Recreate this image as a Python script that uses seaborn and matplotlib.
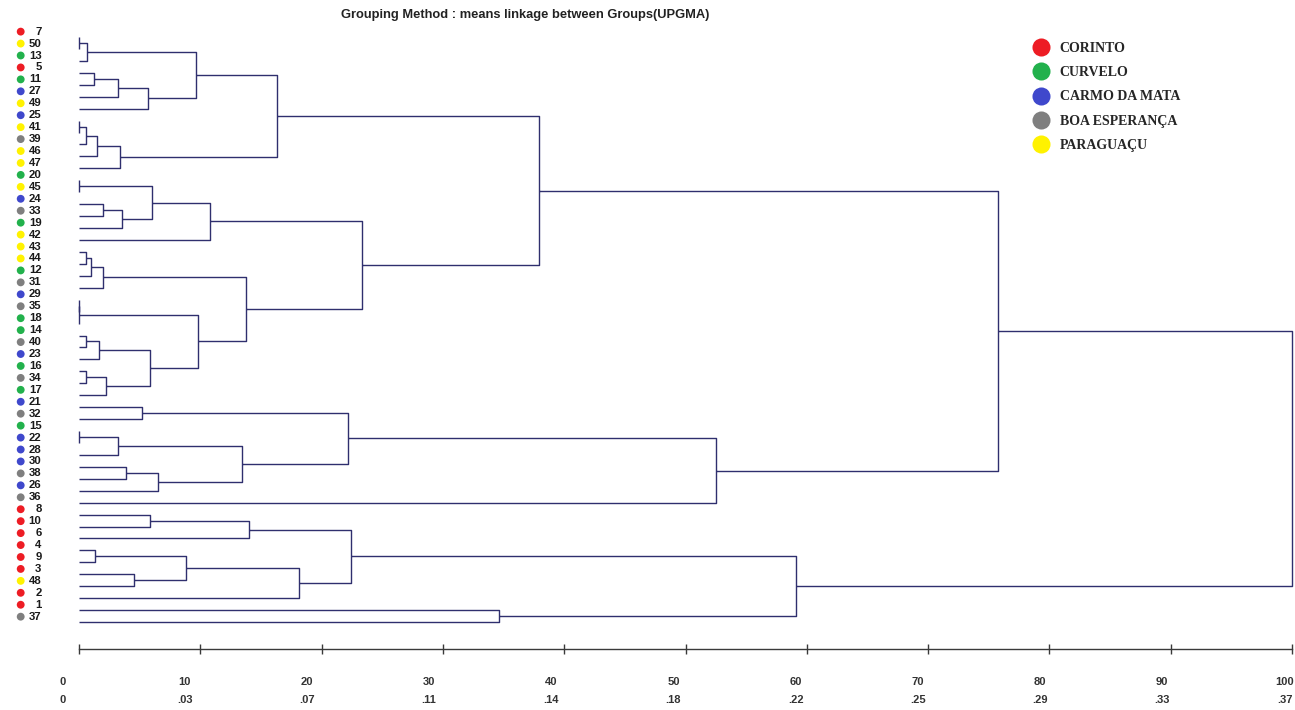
import numpy as np
import pandas as pd
import matplotlib
matplotlib.use("Agg")
import matplotlib.pyplot as plt
from matplotlib.lines import Line2D
from matplotlib.font_manager import FontProperties
from matplotlib.transforms import offset_copy
import seaborn as sns

# ---------------------------------------------------------------------------
# UPGMA merge table. Positive ints are sample numbers, negative ints refer to
# an earlier merge (-1 = first row). Heights are rescaled distances (0-100).
# ---------------------------------------------------------------------------
merge_left = [7, -1, 5, -3, -4, -2, 25, -7, -8, -9, -6, 20, 24, -13, -12, -15,
              43, -17, -18, 29, -20, 14, -22, 16, -24, -23, -21, -19, -16, -11,
              21, 15, -32, 30, -34, -33, -31, -37, -30, 8, -40, 4, 3, -42, -44,
              -41, 1, -46, -39]
merge_right = [50, 13, 11, 27, 49, -5, 41, 39, 46, 47, -10, 45, 33, 19, -14, 42,
               44, 12, 31, 35, 18, 40, 23, 34, 17, -25, -26, -27, -28, -29,
               32, 22, 28, 38, 26, -35, -36, 36, -38, 10, 6, 9, 48, -43, 2,
               -45, 37, -47, -48]
merge_height = [0.0, 0.65, 1.26, 3.24, 5.72, 9.65, 0.0, 0.6, 1.46, 3.38, 16.3,
                0.0, 1.95, 3.58, 6.0, 10.8, 0.6, 0.96, 1.95, 0.0, 0.0, 0.6,
                1.62, 0.6, 2.23, 5.86, 9.85, 13.8, 23.35, 37.9, 5.17, 0.0,
                3.24, 3.88, 6.55, 13.4, 22.15, 52.5, 75.8, 5.86, 14.0, 1.32,
                4.54, 8.8, 18.1, 22.45, 34.6, 59.1, 100.0]

# Sampling sites and their samples
group_names = ["CORINTO", "CURVELO", "CARMO DA MATA", "BOA ESPERANÇA", "PARAGUAÇU"]
group_colors = ["#ED1C24", "#22B14C", "#3F48CC", "#7F7F7F", "#FFF200"]
corinto = [7, 5, 8, 10, 6, 4, 9, 3, 2, 1]
curvelo = [13, 11, 20, 19, 12, 18, 14, 16, 17, 15]
carmo_da_mata = [27, 25, 24, 29, 23, 21, 22, 28, 30, 26]
boa_esperanca = [39, 33, 31, 35, 40, 34, 32, 38, 36, 37]
paraguacu = [50, 49, 41, 46, 47, 45, 42, 43, 44, 48]

# Distance scale
axis_ticks = [0, 10, 20, 30, 40, 50, 60, 70, 80, 90, 100]
axis_raw_labels = ["0", ".03", ".07", ".11", ".14", ".18", ".22", ".25", ".29", ".33", ".37"]

title = "Grouping Method : means linkage between Groups(UPGMA)"

# ---------------------------------------------------------------------------
members = [corinto, curvelo, carmo_da_mata, boa_esperanca, paraguacu]
sample_group = {s: g for g, lst in zip(group_names, members) for s in lst}
palette = dict(zip(group_names, group_colors))

# Walk the tree (left branch first) to get leaf order and segment coordinates
leaf_order = []
seg_x, seg_y = [], []


def place(node):
    if node > 0:
        leaf_order.append(node)
        return float(len(leaf_order) - 1), 0.0
    k = -node - 1
    yl, hl = place(merge_left[k])
    yr, hr = place(merge_right[k])
    h = merge_height[k]
    seg_x.extend([hl, h, h, hr, np.nan])
    seg_y.extend([yl, yl, yr, yr, np.nan])
    return (yl + yr) / 2.0, h


place(-len(merge_height))

W, H = 1295, 710
PX_X0, PX_PER_UNIT = 79.0, 12.13      # horizontal pixel layout
PX_Y0, PX_PER_ROW = 37.0, 11.94       # vertical pixel layout

sns.set_theme(style="white")
plt.rcParams["font.family"] = ["Liberation Sans", "DejaVu Sans"]

fig = plt.figure(figsize=(W / 100, H / 100), dpi=100)
fig.patch.set_facecolor("white")
ax = fig.add_axes([0, 0, 1, 1])
ax.set_facecolor("white")
ax.set_xlim(-PX_X0 / PX_PER_UNIT, (W - PX_X0) / PX_PER_UNIT)
ax.set_ylim((H - PX_Y0) / PX_PER_ROW, -PX_Y0 / PX_PER_ROW)

# Dendrogram branches
ax.plot(seg_x, seg_y, color="#2F2F6E", lw=1.0, solid_capstyle="butt",
        clip_on=False)

# Leaf markers and sample numbers
leaves = pd.DataFrame({
    "sample": leaf_order,
    "group": [sample_group[s] for s in leaf_order],
    "row": np.arange(len(leaf_order)) - 0.45,
})
leaves["mx"] = (20.7 - PX_X0) / PX_PER_UNIT
sns.scatterplot(data=leaves, x="mx", y="row", hue="group", hue_order=group_names,
                palette=palette, s=32, linewidth=0, legend=False, ax=ax,
                clip_on=False)
num_x = (41.5 - PX_X0) / PX_PER_UNIT
for _, r in leaves.iterrows():
    ax.text(num_x, r["row"], str(r["sample"]), ha="right", va="center",
            fontsize=8.2, fontweight="bold", color="#1a1a1a")

# Distance axis
axis_y = (649 - PX_Y0) / PX_PER_ROW
for side in ["left", "right", "top"]:
    ax.spines[side].set_visible(False)
ax.spines["bottom"].set_position(("data", axis_y))
ax.spines["bottom"].set_bounds(0, 100)
ax.spines["bottom"].set_color("#3a3a3a")
ax.spines["bottom"].set_linewidth(1.0)
ax.set_xticks(axis_ticks)
ax.set_yticks([])
ax.tick_params(axis="x", bottom=True, direction="inout", length=7, width=1.0,
               color="#3a3a3a", labelbottom=False)
ax.set_xlabel("")
ax.set_ylabel("")

row1_y = (682 - PX_Y0) / PX_PER_ROW
row2_y = (700 - PX_Y0) / PX_PER_ROW
for v, raw in zip(axis_ticks, axis_raw_labels):
    tr = offset_copy(ax.transData, fig=fig, x=-16.5 + 0.09 * v, y=0, units="dots")
    ax.text(v, row1_y, str(v), transform=tr, ha="center", va="center",
            fontsize=8, fontweight="bold", color="#333333")
    ax.text(v, row2_y, raw, transform=tr, ha="center", va="center",
            fontsize=8, fontweight="bold", color="#333333")

# Site legend
handles = [Line2D([], [], marker="o", ls="", color=palette[g], markersize=13,
                  markeredgewidth=0) for g in group_names]
ax.legend(handles, group_names, loc="upper left",
          bbox_to_anchor=(1034 / W, 1 - 42 / H), bbox_transform=fig.transFigure,
          frameon=False, prop=FontProperties(family="Liberation Serif",
                                             weight="bold", size=10),
          handlelength=1.0, handletextpad=0.85, labelspacing=0.81,
          borderpad=0, borderaxespad=0)

fig.text(525 / W, 1 - 15 / H, title, ha="center", va="center",
         fontsize=9.3, fontweight="bold", color="#222222")

fig.savefig("out.png", dpi=100, facecolor="white")
